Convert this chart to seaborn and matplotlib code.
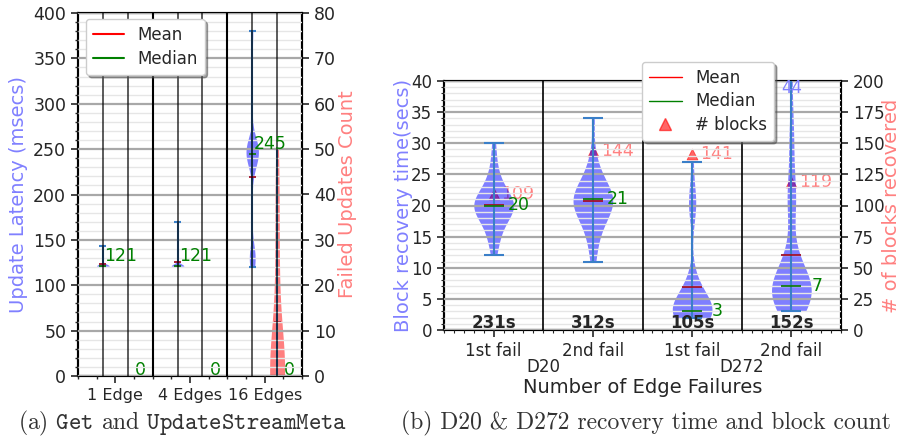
import numpy as np
import matplotlib
matplotlib.use("Agg")
import matplotlib.pyplot as plt
import matplotlib.transforms as mtransforms
from matplotlib.lines import Line2D
from matplotlib.ticker import MultipleLocator
import seaborn as sns

# (a) update latency (msecs) and failed update counts per edge setup
edge_labels = ["1 Edge", "4 Edges", "16 Edges"]
latency_1edge = [121, 121, 121, 121, 121, 121, 121, 121, 122, 122, 123, 143]
latency_4edge = [121, 121, 121, 121, 121, 121, 121, 121, 121, 122, 123, 125, 170]
latency_16edge = [120, 123, 128, 135, 132, 140, 228, 232, 236, 240, 245,
                  245, 245, 246, 248, 250, 253, 257, 258, 262, 380]
failed_1edge = [0, 0, 0, 0, 0, 0]
failed_4edge = [0, 0, 0, 0, 0, 0]
failed_16edge = [0, 0, 0, 0, 0, 0, 0, 0, 0, 0, 0, 4, 8, 14, 20, 26, 32, 38, 44, 50]

# (b) block recovery time (secs) per failure
fail_labels = ["1st fail", "2nd fail", "1st fail", "2nd fail"]
dataset_labels = ["D20", "D272"]
rec_d20_1st = [12, 14, 15, 16, 17, 18, 18, 19, 19, 19, 20, 20, 20, 20, 20,
               21, 21, 21, 22, 22, 23, 24, 25, 27, 30]
rec_d20_2nd = [11, 13, 15, 16, 17, 18, 18, 19, 19, 20, 20, 20, 21, 21, 21,
               21, 22, 22, 22, 23, 23, 24, 25, 26, 28, 34]
rec_d272_1st = [2, 2, 2, 2, 2, 3, 3, 3, 3, 3, 3, 3, 3, 3, 3, 4, 4, 5, 5, 6,
                7, 7, 9, 18, 20, 21, 22, 27]
rec_d272_2nd = [3, 3, 3, 4, 4, 4, 5, 5, 5, 5, 6, 6, 6, 6, 7, 7, 7, 7, 7, 7,
                8, 8, 8, 9, 9, 10, 11, 12, 14, 18, 20, 21, 22, 23, 26, 30, 31, 36, 44]
blocks_recovered = [109, 144, 141, 119]
total_time = ["231s", "312s", "105s", "152s"]

sns.set_style("ticks")
plt.rcParams["font.family"] = ["DejaVu Sans"]
plt.rcParams["font.size"] = 12
plt.rcParams["mathtext.fontset"] = "cm"

MEAN_C = "#a0102a"
MED_C = "#137a13"
BAR_C = "#3a7fc8"
BLUE_LBL = "#8080ff"
RED_LBL = "#ff8080"


def violin(ax, pos, values, color, width, bw):
    sns.violinplot(x=[pos] * len(values), y=values, native_scale=True, orient="v",
                   ax=ax, color=color, width=width, inner=None, cut=0,
                   density_norm="width", linewidth=0, saturation=1,
                   bw_adjust=bw, alpha=0.5)


def stat_lines(ax, pos, values, half, top=None):
    lo, hi = min(values), max(values)
    ax.vlines(pos, lo, hi, color=BAR_C, lw=1.5, zorder=2.55)
    caps = [lo] if (top is not None and hi > top) else [lo, hi]
    ax.hlines(caps, pos - half, pos + half, color=BAR_C, lw=1.5, zorder=2.55)
    ax.hlines(np.mean(values), pos - half, pos + half, color=MEAN_C, lw=1.3, zorder=2.56)
    ax.hlines(np.median(values), pos - half, pos + half, color=MED_C, lw=1.3, zorder=2.57)


def style_axes(ax):
    for s in ax.spines.values():
        s.set_color("black")
        s.set_linewidth(1.5)


fig = plt.figure(figsize=(9.01, 4.41), dpi=100)

# ---------------- panel (a) ----------------
ax1 = fig.add_axes([78 / 901, 65 / 441, 224 / 901, 363 / 441])
ax2 = ax1.twinx()
ax1.set_zorder(ax2.get_zorder() + 1)
ax1.patch.set_visible(False)

latency = [latency_1edge, latency_4edge, latency_16edge]
failed = [failed_1edge, failed_4edge, failed_16edge]
lat_bw = [0.5, 0.25, 0.35]
for i in range(3):
    lp = 1 + 3 * i
    fp = 2 + 3 * i
    violin(ax1, lp, latency[i], "blue", 0.5, lat_bw[i])
    stat_lines(ax1, lp, latency[i], 0.14)
    ax1.text(lp + 0.05, np.median(latency[i]) + 1, "%d" % np.median(latency[i]),
             color="green", fontsize=12.5, ha="left", va="bottom", zorder=4)
    if max(failed[i]) > 0:
        violin(ax2, fp, failed[i], "red", 0.6, 1.0)
        stat_lines(ax2, fp, failed[i], 0.14)
    ax2.text(fp + 0.28, 0.3, "%d" % np.median(failed[i]), color="green",
             fontsize=12.5, ha="left", va="baseline")
    ax1.axvline(lp, color="black", lw=1.2, alpha=0.75, zorder=2.6)
    ax1.axvline(fp, color="black", lw=1.2, alpha=0.75, zorder=2.6)
for sep in [3, 6]:
    ax1.axvline(sep, color="black", lw=1.5, zorder=2.7)

ax1.set_xlim(0, 9)
ax1.set_ylim(0, 400)
ax2.set_ylim(0, 80)
ax1.set_xticks([1.5, 4.5, 7.5])
ax1.set_xticklabels(edge_labels)
ax1.xaxis.set_minor_locator(MultipleLocator(0.75))
ax1.yaxis.set_major_locator(MultipleLocator(50))
ax1.yaxis.set_minor_locator(MultipleLocator(10))
ax2.yaxis.set_major_locator(MultipleLocator(10))
ax1.grid(True, which="major", axis="y", color="#a8a8a8", lw=1.6)
ax1.grid(True, which="minor", axis="y", color="#e6e6e6", lw=1.0)
ax1.set_axisbelow(False)
ax1.set_xlabel("")
ax1.set_ylabel("Update Latency (msecs)", color=BLUE_LBL, fontsize=14)
ax2.set_ylabel("Failed Updates Count", color=RED_LBL, fontsize=14)
ax1.yaxis.set_label_coords(-0.223, 0.5)
ax2.yaxis.set_label_coords(1.161, 0.5)
ax1.tick_params(axis="y", which="major", labelsize=12.5, length=5, width=1.2)
ax1.tick_params(axis="x", which="major", labelsize=11.5, length=5, width=1.2)
ax1.tick_params(axis="both", which="minor", length=2.5, width=1)
ax2.tick_params(axis="y", labelsize=12.5, length=5, width=1.2)
style_axes(ax1)
style_axes(ax2)
ax1.legend(handles=[Line2D([], [], color="red", lw=1.5, label="Mean"),
                    Line2D([], [], color="green", lw=1.5, label="Median")],
           loc="upper left", bbox_to_anchor=(86 / 901, 1 - 19 / 441),
           bbox_transform=fig.transFigure, fontsize=12, shadow=True,
           borderaxespad=0, framealpha=1, labelspacing=0.4, handlelength=1.9)

# ---------------- panel (b) ----------------
ax3 = fig.add_axes([444 / 901, 111 / 441, 397 / 901, 249 / 441])
ax4 = ax3.twinx()
ax3.set_zorder(ax4.get_zorder() + 1)
ax3.patch.set_visible(False)

recovery = [rec_d20_1st, rec_d20_2nd, rec_d272_1st, rec_d272_2nd]
rec_bw = [1.0, 1.0, 0.7, 0.7]
med_dx = [0.14, 0.14, 0.2, 0.2]
positions = [1, 2, 3, 4]
ymax_b = 40
for i, vals in enumerate(recovery):
    p = positions[i]
    violin(ax3, p, vals, "blue", 0.4, rec_bw[i])
    stat_lines(ax3, p, vals, 0.1, top=ymax_b)
    med = np.median(vals)
    ax3.text(p + med_dx[i], med, "%d" % med, color="green", fontsize=12.5,
             ha="left", va="center", zorder=4)
    if max(vals) > ymax_b:
        ax3.text(p, ymax_b - 1.1, "%d" % max(vals), color=BLUE_LBL, fontsize=12,
                 ha="center", va="center", zorder=4)
    ax3.text(p, 0.3, total_time[i], fontsize=12, fontweight="bold",
             ha="center", va="baseline", zorder=4)

sns.scatterplot(x=positions, y=blocks_recovered, ax=ax4, marker="^", s=60,
                color="red", alpha=0.6, edgecolor="red", zorder=3)
for p, b in zip(positions, blocks_recovered):
    ax4.text(p + 0.08, b, "%d" % b, color=RED_LBL, fontsize=12.5,
             ha="left", va="center")

for sep in [1.5, 2.5, 3.5]:
    ax3.axvline(sep, color="black", lw=1.2, zorder=2.7)

ax3.set_xlim(0.5, 4.5)
ax3.set_ylim(0, ymax_b)
ax4.set_ylim(0, 200)
ax3.set_xticks(positions)
ax3.set_xticklabels(fail_labels)
ax3.xaxis.set_minor_locator(MultipleLocator(0.1))
ax3.yaxis.set_major_locator(MultipleLocator(5))
ax3.yaxis.set_minor_locator(MultipleLocator(1))
ax4.yaxis.set_major_locator(MultipleLocator(25))
ax3.grid(True, which="major", axis="y", color="#a8a8a8", lw=1.6)
ax3.grid(True, which="minor", axis="y", color="#e6e6e6", lw=1.0)
ax3.set_axisbelow(False)
ax3.set_ylabel("Block recovery time(secs)", color=BLUE_LBL, fontsize=14)
ax4.set_ylabel("# of blocks recovered", color=RED_LBL, fontsize=14)
ax3.yaxis.set_label_coords(-0.078, 0.5)
ax4.yaxis.set_label_coords(1.103, 0.5)
ax3.tick_params(axis="both", which="major", labelsize=12, length=5, width=1.2)
ax3.tick_params(axis="both", which="minor", length=2, width=0.8)
ax4.tick_params(axis="y", labelsize=12, length=5, width=1.2)
style_axes(ax3)
style_axes(ax4)

trans = mtransforms.blended_transform_factory(ax3.transData, ax3.transAxes)
for j, name in enumerate(dataset_labels):
    ax3.text(1.5 + 2 * j, -0.15, name, transform=trans, ha="center", va="center",
             fontsize=12)
ax3.text(0.5, -0.229, "Number of Edge Failures", transform=ax3.transAxes,
         ha="center", va="center", fontsize=14)

ax3.legend(handles=[Line2D([], [], color="red", lw=1, label="Mean"),
                    Line2D([], [], color="green", lw=1, label="Median"),
                    Line2D([], [], color="red", marker="^", ls="none", alpha=0.6,
                           markersize=8, label="# blocks")],
           loc="upper center", bbox_to_anchor=(708 / 901, 1 - 62 / 441),
           bbox_transform=fig.transFigure, fontsize=12, shadow=True,
           borderaxespad=0, framealpha=1, labelspacing=0.35)

# captions (LaTeX-like fonts shipped with matplotlib)
fig.text(183 / 901, 1 - 423 / 441,
         r"(a) $\mathtt{Get}$ and $\mathtt{UpdateStreamMeta}$",
         ha="center", va="center", fontsize=17, color="#333333", family="cmr10")
fig.text(646 / 901, 1 - 423 / 441,
         "(b) D20 & D272 recovery time and block count",
         ha="center", va="center", fontsize=17, color="#333333", family="cmr10")

fig.savefig("out.png", dpi=100)
